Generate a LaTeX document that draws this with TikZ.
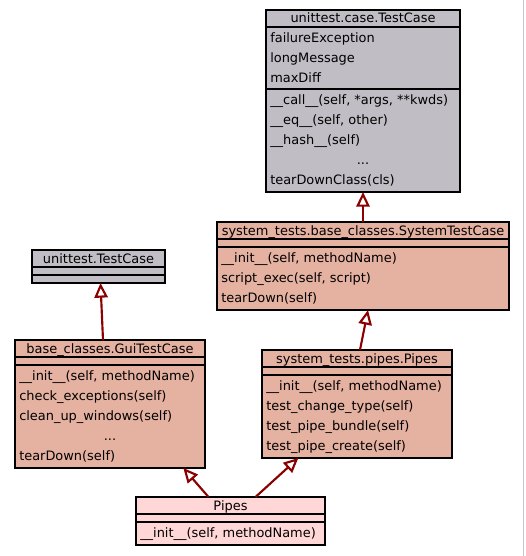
\documentclass[tikz,border=0pt]{standalone}
\usepackage{fontspec}
\setmainfont{DejaVu Sans}
\usetikzlibrary{fit,arrows.meta}
\definecolor{grayfill}{RGB}{192,190,196}
\definecolor{salmonfill}{RGB}{229,177,161}
\definecolor{pinkfill}{RGB}{255,215,215}
\definecolor{arrowred}{RGB}{139,0,0}
\definecolor{edgegray}{RGB}{200,196,208}
\tikzset{
  clsbox/.style={draw=black, line width=0.9pt, inner sep=0pt, outer sep=0pt},
  sepline/.style={draw=black, line width=0.9pt},
  txt/.style={anchor=base west, inner sep=0pt, font=\fontsize{9.7pt}{11pt}\selectfont},
  ttl/.style={anchor=base, inner sep=0pt, font=\fontsize{9.7pt}{11pt}\selectfont},
  inherit/.style={draw=arrowred, line width=1.6pt, -{Triangle[open, length=11pt, width=10pt, fill=white]}},
}
\begin{document}
\begin{tikzpicture}[x=0.75pt,y=-0.75pt]
\useasboundingbox (0,0) rectangle (525,556);
\fill[white] (0,0) rectangle (525,556);
\draw[edgegray, line width=0.75pt] (523.5,0) -- (523.5,556);

% ---- unittest.case.TestCase
\node[clsbox, fill=grayfill, fit={(266,10)(460,192)}] (b1) {};
\draw[sepline] (266,27) -- (460,27);
\draw[sepline] (266,89) -- (460,89);
\node[ttl] (b1t) at (363,23) {unittest.case.TestCase};
\node[txt] (b1a1) at (270,42.5) {failureException};
\node[txt] (b1a2) at (270,62.5) {longMessage};
\node[txt] (b1a3) at (270,82.5) {maxDiff};
\node[txt] (b1m1) at (270,104.5) {\_\_call\_\_(self, *args, **kwds)};
\node[txt] (b1m2) at (270,124.5) {\_\_eq\_\_(self, other)};
\node[txt] (b1m3) at (270,144.5) {\_\_hash\_\_(self)};
\node[ttl] (b1m4) at (363,164.5) {...};
\node[txt] (b1m5) at (270,184.5) {tearDownClass(cls)};

% ---- system_tests.base_classes.SystemTestCase
\node[clsbox, fill=salmonfill, fit={(217,222)(509,310)}] (b2) {};
\draw[sepline] (217,239) -- (509,239);
\draw[sepline] (217,247) -- (509,247);
\node[ttl] (b2t) at (363,235) {system\_tests.base\_classes.SystemTestCase};
\node[txt] (b2m1) at (221,262.5) {\_\_init\_\_(self, methodName)};
\node[txt] (b2m2) at (221,282.5) {script\_exec(self, script)};
\node[txt] (b2m3) at (221,302.5) {tearDown(self)};

% ---- unittest.TestCase
\node[clsbox, fill=grayfill, fit={(32,250)(165,283)}] (b3) {};
\draw[sepline] (32,267) -- (165,267);
\draw[sepline] (32,275) -- (165,275);
\node[ttl] (b3t) at (98.5,263) {unittest.TestCase};

% ---- base_classes.GuiTestCase
\node[clsbox, fill=salmonfill, fit={(15,340)(205,468)}] (b4) {};
\draw[sepline] (15,357) -- (205,357);
\draw[sepline] (15,365) -- (205,365);
\node[ttl] (b4t) at (110,353) {base\_classes.GuiTestCase};
\node[txt] (b4m1) at (19,380.5) {\_\_init\_\_(self, methodName)};
\node[txt] (b4m2) at (19,400.5) {check\_exceptions(self)};
\node[txt] (b4m3) at (19,420.5) {clean\_up\_windows(self)};
\node[ttl] (b4m4) at (110,440.5) {...};
\node[txt] (b4m5) at (19,460.5) {tearDown(self)};

% ---- system_tests.pipes.Pipes
\node[clsbox, fill=salmonfill, fit={(262,350)(452,458)}] (b5) {};
\draw[sepline] (262,367) -- (452,367);
\draw[sepline] (262,375) -- (452,375);
\node[ttl] (b5t) at (357,363) {system\_tests.pipes.Pipes};
\node[txt] (b5m1) at (266,390.5) {\_\_init\_\_(self, methodName)};
\node[txt] (b5m2) at (266,410.5) {test\_change\_type(self)};
\node[txt] (b5m3) at (266,430.5) {test\_pipe\_bundle(self)};
\node[txt] (b5m4) at (266,450.5) {test\_pipe\_create(self)};

% ---- Pipes
\node[clsbox, fill=pinkfill, fit={(136,497)(325,545)}] (b6) {};
\draw[sepline] (136,514) -- (325,514);
\draw[sepline] (136,522) -- (325,522);
\node[ttl] (b6t) at (230.5,510) {Pipes};
\node[txt] (b6m1) at (140,537.5) {\_\_init\_\_(self, methodName)};

% ---- inheritance connectors
\draw[inherit] (b2.north) -- (b1.south);
\draw[inherit] ([xshift=-5.25pt]b4.north) -- ([xshift=1.5pt]b3.south);
\draw[inherit] ([xshift=2.25pt]b5.north) -- ([xshift=3.75pt]b2.south);
\draw[inherit] ([xshift=-16.5pt]b6.north) -- ([xshift=55pt]b4.south);
\draw[inherit] ([xshift=18.75pt]b6.north) -- ([xshift=-44pt]b5.south);
\end{tikzpicture}
\end{document}
